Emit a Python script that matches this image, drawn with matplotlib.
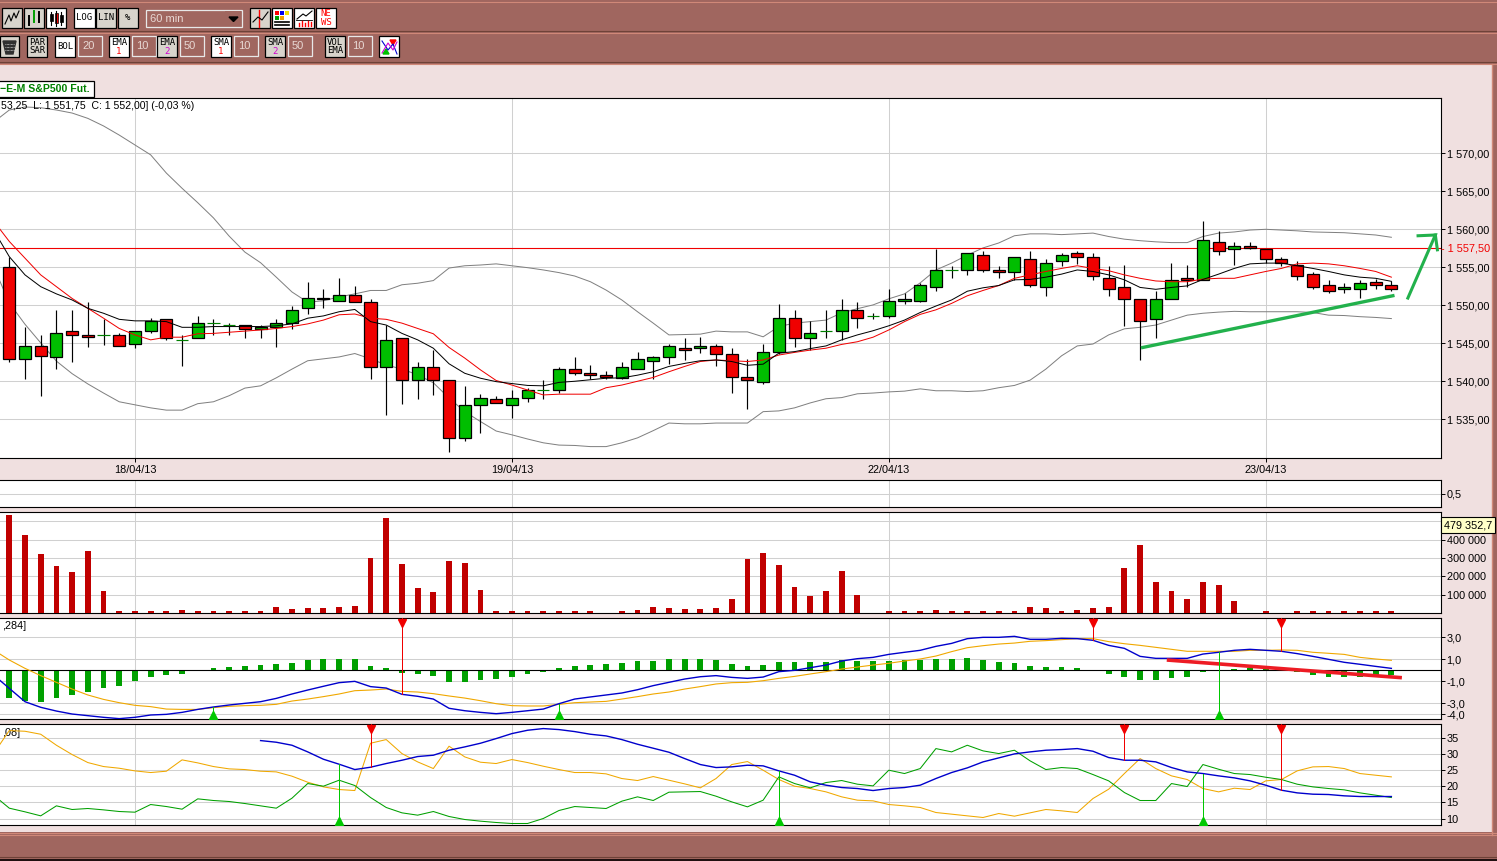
import matplotlib
matplotlib.use('Agg')
import matplotlib.pyplot as plt
import numpy as np
from matplotlib.patches import Rectangle

plt.rcParams['font.family'] = ['Liberation Sans', 'DejaVu Sans']

# candles, E-mini S&P500, 60 min
candle_dir = "RGRGRRGRGGRGGGGRGGGGRGRRGRGRRGGRGGGGRRRGGGGRGRRRGGRGGGRGGGGGGGRRGRGGRRRRRGGRGRGRRRRRRGGRR"
high = [1556.4,1547.1,1546.05,1549.35,1549.35,1550.4,1548.15,1546.3,1546.6,1548.3,
        1548.15,1546.05,1548.55,1548.15,1547.65,1547.35,1547.35,1548.15,1549.85,1553.05,
        1552.1,1553.55,1552.6,1550.8,1547.35,1545.65,1542.6,1544.1,1540.15,1539.4,
        1538.35,1538.05,1538.85,1539.1,1540.15,1541.85,1543.15,1542.1,1541.3,1542.6,
        1543.8,1543.35,1544.85,1545.65,1545.8,1544.85,1544.35,1542.9,1544.85,1550.15,
        1549.35,1547.9,1549.35,1550.8,1550.4,1548.95,1552.1,1551.6,1552.9,1557.45,
        1555.15,1556.85,1557.1,1555.15,1556.3,1557.15,1556.05,1556.85,1557.1,1556.85,
        1555.15,1555.25,1550.8,1551.85,1555.5,1555.25,1561.05,1559.75,1558.3,1558.3,
        1557.35,1556.3,1555.8,1554.35,1553.3,1552.9,1553.3,1553.4,1553.15]
body_top = [1555.1,1544.6,1544.6,1546.3,1546.6,1546.05,1546.05,1546.05,1546.6,1547.9,
            1548.15,1545.4,1547.65,1547.65,1547.35,1547.35,1547.1,1547.65,1549.35,1551.0,
            1551.0,1551.3,1551.3,1550.4,1545.4,1545.65,1541.85,1541.85,1540.15,1536.85,
            1537.75,1537.6,1537.75,1538.8,1538.8,1541.6,1541.6,1541.05,1540.8,1541.85,
            1542.9,1543.15,1544.6,1544.35,1544.6,1544.6,1543.55,1540.5,1543.8,1548.3,
            1548.3,1546.3,1546.6,1549.35,1549.35,1548.55,1550.5,1550.8,1552.65,1554.6,
            1554.6,1556.85,1556.6,1554.6,1556.3,1556.05,1555.5,1556.6,1556.85,1556.3,
            1553.55,1552.35,1550.8,1550.8,1553.3,1553.55,1558.55,1558.3,1557.75,1557.75,
            1557.35,1556.05,1555.25,1554.1,1552.65,1552.35,1552.9,1553.0,1552.65]
body_bot = [1542.9,1542.9,1543.3,1543.15,1546.05,1545.8,1546.05,1544.6,1544.85,1546.6,
            1545.65,1545.4,1545.65,1547.65,1547.35,1546.85,1546.85,1547.1,1547.65,1549.6,
            1550.8,1550.5,1550.4,1541.85,1541.85,1540.15,1540.15,1540.15,1532.5,1532.5,
            1536.85,1537.1,1536.85,1537.75,1538.8,1538.8,1541.05,1540.8,1540.5,1540.4,
            1541.6,1542.65,1543.15,1544.1,1544.35,1543.55,1540.5,1540.15,1539.85,1543.8,
            1545.65,1545.65,1546.6,1546.6,1548.3,1548.55,1548.55,1550.5,1550.5,1552.35,
            1554.6,1554.6,1554.6,1554.35,1554.35,1552.65,1552.35,1555.8,1556.3,1553.8,
            1552.1,1550.8,1547.9,1548.15,1550.8,1553.3,1553.3,1557.1,1557.35,1557.5,
            1556.05,1555.5,1553.8,1552.35,1551.85,1552.1,1552.1,1552.65,1552.1]
low = [1542.6,1540.35,1538.0,1541.55,1542.6,1544.55,1544.8,1544.6,1544.35,1546.3,
       1545.4,1542.05,1545.65,1546.05,1546.05,1545.65,1545.65,1544.55,1546.85,1548.8,
       1549.6,1550.5,1550.4,1540.35,1535.5,1537.05,1537.7,1538.25,1530.75,1532.2,
       1533.25,1537.1,1535.2,1537.3,1537.6,1538.5,1540.8,1540.35,1540.25,1540.25,
       1541.6,1540.35,1542.3,1542.8,1543.75,1542.05,1538.5,1536.3,1539.6,1543.55,
       1544.55,1544.1,1545.65,1545.4,1547.05,1548.15,1548.3,1550.15,1550.4,1551.85,
       1553.55,1554.05,1554.35,1553.55,1553.3,1552.35,1551.25,1555.15,1555.45,1553.3,
       1551.25,1547.3,1542.85,1545.75,1550.8,1552.35,1553.3,1556.6,1555.25,1557.35,
       1555.5,1555.15,1553.3,1552.1,1551.6,1551.6,1551.0,1552.1,1551.85]

# overlays start one bar before the first candle
boll_up = [1574.1,1575.7,1576.1,1576.0,1575.7,1575.3,1574.6,1573.6,1572.4,1571.1,1569.8,
           1567.4,1565.4,1563.5,1561.5,1559.1,1557.0,1555.6,1553.7,1551.75,1550.4,
           1550.6,1551.1,1551.5,1551.95,1551.95,1552.7,1552.9,1553.25,1554.9,1555.2,
           1555.3,1555.45,1555.2,1554.95,1554.65,1554.3,1553.85,1553.1,1552.0,1550.7,
           1549.15,1547.65,1546.1,1546.15,1546.2,1546.6,1546.5,1546.5,1545.85,1547.2,
           1547.65,1547.85,1548.05,1549.0,1549.55,1550.05,1550.85,1551.5,1552.95,1554.65,
           1555.55,1556.6,1557.55,1558.2,1559.15,1559.4,1559.4,1559.3,1559.4,1559.5,
           1559.05,1558.7,1558.5,1558.35,1558.25,1558.25,1559.05,1559.5,1559.65,1559.9,
           1560.0,1559.9,1559.8,1559.65,1559.6,1559.55,1559.4,1559.25,1558.95]
boll_low = [1555.1,1550.3,1547.5,1545.05,1542.65,1541.0,1539.65,1538.45,1537.3,1536.9,1536.5,
            1536.2,1536.2,1537.05,1537.3,1538.1,1539.1,1539.4,1540.45,1541.6,1542.7,
            1542.95,1543.2,1543.65,1542.95,1542.15,1541.6,1540.85,1539.8,1537.8,1536.0,
            1534.7,1533.45,1532.95,1532.4,1531.9,1531.6,1531.55,1531.4,1531.4,1531.9,
            1532.55,1533.5,1534.5,1534.4,1534.4,1534.5,1534.5,1534.5,1536.0,1536.1,
            1536.5,1537.15,1537.7,1537.85,1538.35,1538.45,1538.6,1538.7,1539.0,1538.75,
            1538.75,1538.65,1538.75,1539.15,1539.45,1540.15,1541.6,1543.35,1544.65,1544.9,
            1546.1,1546.9,1547.1,1547.4,1548.05,1548.7,1548.95,1549.1,1549.2,1549.15,
            1549.15,1549.15,1549.15,1549.05,1548.7,1548.65,1548.5,1548.4,1548.25]
ema_black = [1559.9,1556.4,1554.0,1552.45,1551.5,1550.7,1549.6,1548.95,1548.15,1547.95,1547.95,
             1547.85,1547.1,1547.1,1547.2,1547.2,1547.2,1547.2,1547.3,1547.55,1548.3,
             1548.6,1549.15,1549.45,1547.85,1547.4,1546.3,1545.45,1544.35,1542.3,1541.05,
             1540.4,1539.95,1539.7,1539.45,1539.4,1539.85,1540.0,1540.2,1540.4,1540.45,
             1540.8,1541.25,1541.95,1542.35,1542.7,1542.8,1542.6,1542.1,1542.25,1543.7,
             1543.9,1544.3,1544.65,1545.45,1546.1,1546.65,1547.3,1548.05,1549.05,1549.9,
             1550.7,1551.85,1552.3,1552.6,1553.35,1553.4,1553.7,1554.1,1554.65,1554.45,
             1554.0,1553.35,1552.35,1552.1,1552.35,1552.55,1553.4,1554.1,1554.85,1555.45,
             1555.55,1555.55,1555.2,1554.85,1554.45,1554.0,1553.7,1553.55,1553.15]
ema_red = [1561.1,1558.4,1556.2,1554.0,1552.45,1550.9,1549.6,1548.3,1546.95,1546.1,1545.45,
           1545.8,1545.8,1546.25,1546.3,1546.45,1546.6,1546.75,1546.95,1547.2,1547.55,
           1548.05,1548.75,1548.85,1548.3,1548.15,1547.65,1546.95,1546.25,1544.45,1543.05,
           1541.5,1540.1,1539.5,1538.85,1538.2,1538.3,1538.3,1538.3,1539.15,1539.5,
           1540.0,1540.5,1541.25,1541.95,1542.6,1542.8,1542.7,1542.6,1542.8,1543.45,
           1543.8,1544.1,1544.35,1544.85,1545.2,1545.8,1546.75,1547.85,1548.8,1549.4,
           1550.25,1551.25,1551.95,1552.6,1553.55,1554.0,1554.45,1554.85,1555.2,1554.85,
           1554.55,1554.0,1553.55,1553.2,1553.1,1553.1,1553.45,1553.55,1553.55,1554.0,
           1554.45,1554.85,1555.45,1555.55,1555.45,1555.2,1554.85,1554.45,1553.7]

resistance = 1557.5
support_x = [72.06, 88.2]
support_y = [1544.4, 1551.3]
arrow_x = [89.05, 90.8, 89.7]
arrow_y = [1550.95, 1559.25, 1559.15]
arrow_barb_x = [90.8, 90.93]
arrow_barb_y = [1559.25, 1557.3]

volume = [534400,425700,322500,257300,224600,338800,121400,10000,10000,10000,
          14000,18100,10000,10000,10000,10000,14000,34400,23500,29000,
          29000,34400,39900,300700,518100,268100,137700,115900,284400,273600,
          126800,10000,14000,10000,14000,14000,14000,10000,0,10000,
          18100,34400,29000,23500,23500,29000,77900,295300,327900,262700,
          143100,94200,121400,230100,99600,0,14000,10000,10000,18100,
          10000,10000,10000,10000,14000,34400,29000,14000,18100,29000,
          34400,246400,371400,170300,121400,77900,170300,154000,67000,0,
          10000,0,10000,14000,14000,10000,10000,10000,10000]

macd_hist = [-2.48,-2.76,-2.85,-2.48,-2.21,-1.94,-1.58,-1.39,-0.94,-0.58,
             -0.39,-0.30,0,0.21,0.30,0.39,0.48,0.58,0.67,0.94,
             1.03,1.03,1.03,0.39,0.21,-0.24,-0.33,-0.52,-1.03,-1.03,
             -0.85,-0.76,-0.58,-0.33,-0.12,0.21,0.39,0.48,0.58,0.67,
             0.85,0.85,1.03,1.03,1.03,0.94,0.58,0.39,0.48,0.76,
             0.76,0.76,0.76,0.94,0.85,0.85,0.85,0.94,0.94,1.03,
             1.03,1.12,0.94,0.76,0.67,0.39,0.30,0.30,0.21,0,
             -0.33,-0.61,-0.88,-0.88,-0.70,-0.61,-0.15,0,0.15,0.18,
             0.18,0,-0.15,-0.42,-0.61,-0.61,-0.61,-0.45,-0.45]
macd_blue = [-0.42,-1.64,-2.85,-3.36,-3.70,-3.97,-4.12,-4.27,-4.39,-4.27,-4.06,
             -4.0,-3.82,-3.55,-3.33,-3.15,-3.0,-2.85,-2.55,-2.15,-1.79,
             -1.45,-1.12,-1.0,-1.48,-1.61,-2.18,-2.36,-2.61,-3.45,-3.67,
             -3.82,-3.94,-3.82,-3.67,-3.52,-3.03,-2.61,-2.42,-2.24,-2.06,
             -1.76,-1.39,-1.09,-0.79,-0.58,-0.48,-0.64,-0.73,-0.61,-0.12,
             0,0.24,0.48,0.85,1.06,1.18,1.45,1.64,1.82,2.18,
             2.45,2.88,3.0,3.0,3.09,2.82,2.82,2.91,2.88,2.73,
             2.27,2.0,1.27,1.09,1.09,1.09,1.48,1.64,1.82,1.91,
             1.82,1.73,1.52,1.27,1.0,0.73,0.55,0.36,0.18]
macd_orange = [1.85,0.94,0.18,-0.48,-1.09,-1.70,-2.24,-2.64,-2.94,-3.18,-3.30,
               -3.52,-3.55,-3.55,-3.39,-3.27,-3.21,-3.18,-3.09,-2.79,-2.61,
               -2.39,-2.15,-1.85,-1.79,-1.70,-1.91,-1.97,-2.12,-2.33,-2.52,
               -2.76,-3.03,-3.21,-3.24,-3.24,-3.09,-2.94,-2.88,-2.82,-2.61,
               -2.39,-2.15,-1.97,-1.70,-1.48,-1.24,-1.12,-1.09,-0.94,-0.73,
               -0.55,-0.33,-0.12,0.12,0.30,0.48,0.64,0.85,1.03,1.30,
               1.70,2.06,2.24,2.39,2.48,2.64,2.70,2.79,2.88,2.88,
               2.61,2.42,2.27,2.09,1.91,1.73,1.73,1.73,1.73,1.82,
               1.82,1.85,1.82,1.64,1.55,1.45,1.18,1.03,0.91]
macd_trend_x = [73.7, 88.67]
macd_trend_y = [0.94, -0.67]
macd_sell = [25, 69, 81]
macd_buy = [13, 35, 77]

# blue starts at bar 16, the two others one bar before the first candle
dmi_blue = [34.07,33.56,32.63,30.58,28.31,26.77,25.12,25.84,26.98,28.0,
            29.14,29.55,31.09,32.12,33.25,34.69,36.23,37.26,37.78,37.47,
            36.85,36.03,35.51,34.38,32.94,31.71,30.47,28.52,26.67,25.74,
            25.95,26.46,26.26,24.71,23.37,21.32,20.29,19.57,19.26,18.64,
            19.26,19.57,20.29,22.35,24.2,25.64,27.49,28.72,29.96,30.58,
            31.09,31.3,31.6,30.78,28.83,28.0,28.0,27.49,25.74,24.4,
            23.89,23.17,22.55,21.63,20.29,18.74,17.92,17.51,17.41,17.0,
            16.79,16.79,16.79]
dmi_orange = [30.06,37.16,36.95,36.03,32.63,29.75,27.28,26.05,25.53,24.71,24.2,
              24.61,28.11,27.18,26.05,25.33,25.12,24.61,24.4,23.07,21.21,
              19.77,18.95,18.64,33.25,34.38,30.06,27.49,25.43,32.33,29.03,
              27.39,26.98,28.21,27.28,26.15,25.12,24.2,24.2,23.79,22.35,
              21.73,22.96,21.83,20.7,19.47,22.35,26.67,27.59,24.92,22.04,
              19.98,19.26,18.23,16.69,15.66,15.45,14.32,13.91,13.4,11.85,
              11.34,10.82,10.31,11.54,10.72,11.75,12.78,12.37,11.85,16.17,
              19.05,23.89,28.52,25.43,23.17,22.04,19.26,18.23,19.36,18.95,
              21.63,22.04,24.71,25.95,26.05,25.43,23.89,23.37,22.86]
dmi_green = [17.2,13.19,12.06,10.82,13.91,12.78,13.09,12.67,12.16,11.95,14.32,
             13.7,12.88,16.07,15.56,15.25,14.63,13.91,13.19,16.28,20.8,
             19.98,21.83,20.19,16.48,13.4,11.75,11.03,12.16,10.62,9.69,
             9.18,8.77,8.46,8.46,10.0,12.47,13.7,13.4,13.09,15.35,
             16.69,15.56,18.13,18.23,18.33,16.89,15.14,13.6,15.66,22.86,
             20.8,19.47,21.11,21.73,20.6,20.08,24.92,23.89,25.43,31.6,
             30.58,32.63,30.89,30.06,31.09,27.8,25.12,25.74,25.43,23.58,
             21.63,18.02,15.56,15.56,20.8,19.87,26.67,25.22,23.89,23.58,
             22.75,22.04,20.6,19.77,19.26,18.85,17.92,17.2,16.48]
dmi_sell = [23, 71, 81]
dmi_buy = [21, 49, 76]

price_ticks = [1535, 1540, 1545, 1550, 1555, 1560, 1565, 1570]
price_labels = ['1 535,00', '1 540,00', '1 545,00', '1 550,00', '1 555,00', '1 560,00', '1 565,00', '1 570,00']
volume_ticks = [100000, 200000, 300000, 400000, 500000]
volume_labels = ['100 000', '200 000', '300 000', '400 000', '']
macd_ticks = [-4, -3, -1, 1, 3]
macd_labels = ['-4,0', '-3,0', '-1,0', '1,0', '3,0']
dmi_ticks = [10, 15, 20, 25, 30, 35]
date_ticks = [8, 32, 56, 80]
date_labels = ['18/04/13', '19/04/13', '22/04/13', '23/04/13']

W, H = 1497, 861
BROWN = '#A0665F'
PINK = '#F0E0E0'
GRID = '#D0D0D0'
XLIM = (-0.592, 91.16)

fig = plt.figure(figsize=(W / 100, H / 100), dpi=100, facecolor=PINK)

# window chrome, in pixels
bg = fig.add_axes([0, 0, 1, 1], zorder=0)
bg.set_xlim(0, W)
bg.set_ylim(H, 0)
bg.axis('off')


def band(x0, y0, x1, y1, color):
    bg.add_patch(Rectangle((x0, y0), x1 - x0, y1 - y0, fc=color, ec='none'))


def button(x0, y0, x1, y1, label=None, sub=None, sub_color='red', on=False, color='black'):
    bg.add_patch(Rectangle((x0, y0), x1 - x0, y1 - y0, fc='white' if on else '#D8D4CC', ec='black', lw=0.9))
    if label and sub:
        bg.text((x0 + x1) / 2, y0 + 6.5, label, ha='center', va='center', fontsize=6.5,
                family='DejaVu Sans Mono', color=color)
        bg.text((x0 + x1) / 2, y0 + 15.5, sub, ha='center', va='center', fontsize=6.5,
                family='DejaVu Sans Mono', color=sub_color)
    elif label:
        bg.text((x0 + x1) / 2, (y0 + y1) / 2, label, ha='center', va='center', fontsize=6.5,
                family='DejaVu Sans Mono', color=color, linespacing=0.95)


def entry(x0, y0, x1, y1, label):
    bg.add_patch(Rectangle((x0, y0), x1 - x0, y1 - y0, fc=BROWN, ec='#E8E8E8', lw=0.9))
    bg.text(x0 + 4, (y0 + y1) / 2, label, va='center', fontsize=8, color='#E8D8D4')


band(0, 0, W, 64, BROWN)
band(0, 832, W, 859, BROWN)
band(1492, 0, W, 861, BROWN)
band(0, 859, W, H, '#201010')
for yy, cc in [(2, '#D08878'), (31, '#6E4238'), (33, '#D08878'), (62, '#6E4238'), (64, '#D08878'),
               (833, '#D08878'), (835, '#D08878'), (857, '#6E4238')]:
    bg.plot([0, W], [yy, yy], color=cc, lw=0.8)
bg.plot([1492, 1492], [64, 835], color='#D08878', lw=1)

# first toolbar row
button(2, 8, 22, 28)
bg.plot([5, 9, 11, 14, 16, 19], [24, 15, 21, 13, 18, 11], color='black', lw=0.8)
button(24, 8, 44, 28)
for xx, a, b, cc in [(29, 16, 25, 'black'), (34, 11, 22, '#00A000'), (39, 12, 22, 'black')]:
    bg.plot([xx, xx], [a, b], color=cc, lw=1.4)
button(46, 8, 66, 28, on=True)
bg.plot([51, 51], [12, 25], color='black', lw=0.8)
bg.plot([56, 56], [11, 26], color='black', lw=0.8)
bg.plot([61, 61], [12, 25], color='black', lw=0.8)
bg.add_patch(Rectangle((49.5, 14), 3, 7, fc='black', ec='black', lw=0.5))
bg.add_patch(Rectangle((54.5, 13), 3, 10, fc='red', ec='black', lw=0.5))
bg.add_patch(Rectangle((59.5, 15), 3, 7, fc='black', ec='black', lw=0.5))
button(74, 8, 95, 28, 'LOG', on=True)
button(96, 8, 116, 28, 'LIN')
button(118, 8, 138, 28, '%')
entry(146, 10, 242, 27, '60 min')
bg.add_patch(Rectangle((225, 11), 16, 15, fc=BROWN, ec='none'))
bg.fill([229, 238, 233.5], [17, 17, 21.5], color='black')
button(250, 8, 270, 28)
bg.plot([259, 259], [10, 27], color='red', lw=1)
bg.plot([253, 258, 262, 268], [22, 17, 20, 12], color='black', lw=0.8)
button(272, 8, 292, 28, on=True)
for xx, yy, cc in [(275, 11, 'red'), (280, 11, '#0000F0'), (285, 11, '#F0E000'), (275, 16, '#00A000'), (280, 16, '#F0A000')]:
    bg.add_patch(Rectangle((xx, yy), 4, 4, fc=cc, ec='none'))
bg.plot([275, 289], [22, 22], color='black', lw=1.2)
bg.plot([275, 289], [25, 25], color='black', lw=1.2)
button(294, 8, 314, 28, on=True)
bg.plot([297, 303, 306, 312], [19, 14, 16, 11], color='black', lw=0.8)
bg.plot([296, 312], [20, 20], color='black', lw=0.6)
for xx, hh in [(299, 3), (302, 5), (305, 3), (308, 5), (311, 4)]:
    bg.plot([xx, xx], [26, 26 - hh], color='red', lw=1)
button(316, 8, 336, 28, 'NE\nWS', on=True, color='red')

# second toolbar row
button(0, 36, 19, 57)
bg.fill([3, 16, 13, 6], [41, 41, 54, 54], color='#303030')
for yy in [44, 47, 50]:
    bg.plot([5, 14], [yy, yy], color='white', lw=0.5, ls=(0, (1, 1)))
button(27, 36, 47, 57, 'PAR\nSAR')
button(55, 36, 75, 57, 'BOL', on=True)
entry(78, 36, 102, 56, '20')
button(109, 36, 129, 57, 'EMA', '1', on=True)
entry(132, 36, 156, 56, '10')
button(157, 36, 177, 57, 'EMA', '2', sub_color='#D000D0')
entry(180, 36, 204, 56, '50')
button(211, 36, 231, 57, 'SMA', '1', on=True)
entry(234, 36, 258, 56, '10')
button(265, 36, 285, 57, 'SMA', '2', sub_color='#D000D0')
entry(288, 36, 312, 56, '50')
button(325, 36, 345, 57, 'VOL\nEMA')
entry(348, 36, 372, 56, '10')
button(379, 36, 399, 57, on=True)
bg.plot([382, 388, 393, 397], [41, 50, 44, 54], color='#0000D0', lw=0.8)
bg.plot([382, 388, 393, 397], [53, 43, 50, 42], color='#D000D0', lw=0.8)
bg.fill([390, 396, 393], [40, 40, 45], color='red')
bg.fill([383, 389, 386], [54, 54, 49], color='#00C000')


def panel(y0, y1):
    ax = fig.add_axes([0, 1 - y1 / H, 1441 / W, (y1 - y0) / H], zorder=2)
    ax.set_xlim(*XLIM)
    ax.set_xticks(date_ticks)
    ax.set_xticklabels([])
    ax.tick_params(axis='x', length=0)
    ax.yaxis.tick_right()
    ax.tick_params(axis='y', length=3, width=0.7, labelsize=7.8, pad=1)
    ax.grid(True, color=GRID, lw=0.75)
    ax.set_axisbelow(True)
    for s in ax.spines.values():
        s.set_linewidth(0.8)
    ax.spines['left'].set_visible(False)
    return ax


x_bars = np.arange(89)
x_over = np.arange(-1, 89)

# price panel
ax = panel(98, 458)
ax.set_ylim(1529.9, 1577.28)
ax.set_yticks(price_ticks)
ax.set_yticklabels(price_labels)
ax.set_xticklabels(date_labels, fontsize=7.8)
ax.tick_params(axis='x', length=3, width=0.7, pad=2)

ax.plot(x_over, boll_up, color='#808080', lw=0.72, zorder=2)
ax.plot(x_over, boll_low, color='#808080', lw=0.72, zorder=2)
ax.axhline(resistance, color='#F00000', lw=0.8, zorder=2)
ax.vlines(x_bars, low, high, color='black', lw=0.85, zorder=3)
top = np.array(body_top)
bot = np.array(body_bot)
colors = np.array(['#F00000' if c == 'R' else '#00BE00' for c in candle_dir])
solid = top > bot
ax.bar(x_bars[solid], (top - bot)[solid], bottom=bot[solid], width=0.77, color=colors[solid],
       edgecolor='black', lw=0.9, zorder=4)
ax.hlines(top[~solid], x_bars[~solid] - 0.39, x_bars[~solid] + 0.39, color='#008000', lw=0.85, zorder=4)
ax.plot(x_over, ema_red, color='#F00000', lw=0.72, zorder=5)
ax.plot(x_over, ema_black, color='black', lw=0.72, zorder=5)
ax.plot(support_x, support_y, color='#22B14C', lw=2.4, zorder=6, solid_capstyle='butt')
ax.plot(arrow_x, arrow_y, color='#22B14C', lw=2.2, zorder=6, clip_on=False, solid_joinstyle='miter')
ax.plot(arrow_barb_x, arrow_barb_y, color='#22B14C', lw=2.2, zorder=6, clip_on=False)
ax.text(1.0, resistance, '- 1 557,50', transform=ax.get_yaxis_transform(), va='center', ha='left',
        fontsize=7.8, color='#F00000')
ax.text(0.0005, 0.9775, '53,25  L: 1 551,75  C: 1 552,00] (-0,03 %)', transform=ax.transAxes,
        va='center', fontsize=7.6)

# title tag above the price panel
bg.add_patch(Rectangle((-2, 81), 96, 15.5, fc='white', ec='black', lw=0.9))
bg.text(0.5, 89, '\u2212E-M S&P500 Fut.', va='center', fontsize=7.6, weight='bold', color='#008000')

# empty panel
ax = panel(480.3, 507.3)
ax.set_ylim(0, 1)
ax.set_yticks([0.5])
ax.set_yticklabels(['0,5'])

# volume panel
ax = panel(512.3, 613.3)
ax.set_ylim(0, 548900)
ax.set_yticks(volume_ticks)
ax.set_yticklabels(volume_labels)
ax.bar(x_bars, volume, width=0.37, color='#C00000', zorder=3)
ax.text(1.002, 479352, '479 352,7', transform=ax.get_yaxis_transform(), va='center', ha='left', fontsize=7.8,
        clip_on=False, zorder=9,
        bbox=dict(boxstyle='square,pad=0.25', fc='#FFFFC8', ec='black', lw=0.8))

# MACD panel
ax = panel(618.3, 719.3)
ax.set_ylim(-4.45, 4.73)
ax.set_yticks(macd_ticks)
ax.set_yticklabels(macd_labels)
ax.bar(x_bars, macd_hist, width=0.37, color='#00A000', zorder=3)
ax.axhline(0, color='black', lw=0.8, zorder=4)
ax.plot(x_over, macd_orange, color='#F0A800', lw=0.8, zorder=5)
ax.plot(x_over, macd_blue, color='#0000CC', lw=1.0, zorder=6)
ax.plot(macd_trend_x, macd_trend_y, color='#ED1C24', lw=2.6, zorder=7, solid_capstyle='butt')
mb = dict(zip(x_over, macd_blue))
for i in macd_sell:
    ax.plot([i, i], [4.73, mb[i]], color='#F00000', lw=0.72, zorder=7)
    ax.plot(i, 0.955, marker='v', ms=5.5, color='#F00000', transform=ax.get_xaxis_transform(), zorder=8)
for i in macd_buy:
    ax.plot([i, i], [-4.45, mb[i]], color='#00C800', lw=0.72, zorder=7)
    ax.plot(i, 0.045, marker='^', ms=5.5, color='#00C800', transform=ax.get_xaxis_transform(), zorder=8)
ax.text(0.0015, 0.925, ',284]', transform=ax.transAxes, va='center', fontsize=7.8)

# DMI panel
ax = panel(724.3, 825.3)
ax.set_ylim(7.9, 39.1)
ax.set_yticks(dmi_ticks)
ax.set_yticklabels([str(t) for t in dmi_ticks])
ax.plot(x_over, dmi_orange, color='#F0A800', lw=0.75, zorder=4)
ax.plot(x_over, dmi_green, color='#00A000', lw=0.75, zorder=4)
x_blue = np.arange(16, 89)
ax.plot(x_blue, dmi_blue, color='#0000CC', lw=1.0, zorder=5)
db = dict(zip(x_blue, dmi_blue))
for i in dmi_sell:
    ax.plot([i, i], [39.1, db[i]], color='#F00000', lw=0.72, zorder=6)
    ax.plot(i, 0.955, marker='v', ms=5.5, color='#F00000', transform=ax.get_xaxis_transform(), zorder=7)
for i in dmi_buy:
    ax.plot([i, i], [7.9, db[i]], color='#00C800', lw=0.72, zorder=6)
    ax.plot(i, 0.045, marker='^', ms=5.5, color='#00C800', transform=ax.get_xaxis_transform(), zorder=7)
ax.text(0.0015, 0.91, ',08]', transform=ax.transAxes, va='center', fontsize=7.8)

fig.savefig('out.png', dpi=100, facecolor=PINK)
